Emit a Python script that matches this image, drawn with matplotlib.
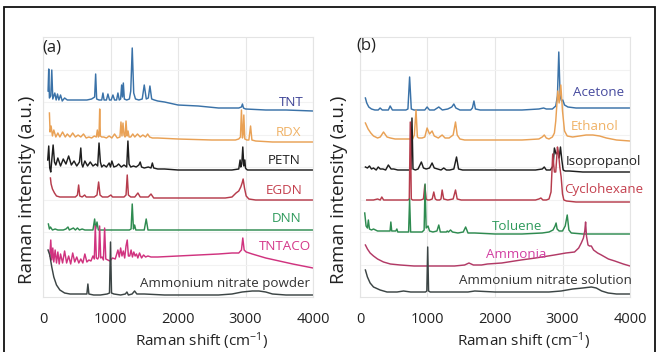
import matplotlib
matplotlib.use("Agg")
import matplotlib.pyplot as plt
from matplotlib.patches import Rectangle

plt.rcParams['font.family'] = ['Open Sans', 'DejaVu Sans']
plt.rcParams['mathtext.default'] = 'regular'

# ---- panel (a): explosives, intensities relative to each trace's baseline ----
tnt_x = [75, 85, 95, 115, 130, 145, 175, 195, 215, 235, 260, 285, 320, 360, 450, 550, 650, 720, 765, 780,
         795, 830, 870, 888, 905, 940, 962, 985, 1010, 1036, 1060, 1090, 1110, 1130, 1150, 1165, 1178, 1190,
         1205, 1240, 1280, 1300, 1322, 1344, 1370, 1420, 1470, 1500, 1530, 1560, 1584, 1610, 1650, 1700,
         1800, 2000, 2300, 2600, 2900, 2940, 2955, 2970, 3000, 3300, 3600, 4000]
tnt_y = [20, 42, 13, 15, 41, 12, 18, 11, 17, 11, 16, 10, 13, 11, 11, 11, 11, 12, 14, 37,
         12, 11, 11, 18, 11, 11, 17, 11, 11, 16, 11, 11, 18, 11, 12, 26, 14, 28,
         12, 11, 12, 20, 63, 18, 12, 11, 12, 26, 12, 13, 25, 12, 11, 10,
         9, 6, 5, 3, 3, 4, 7, 3, 2, 1, 1, 0]

rdx_x = [95, 105, 120, 140, 160, 190, 220, 250, 290, 330, 360, 400, 440, 480, 520, 560, 600, 640, 680, 720,
         760, 790, 805, 820, 830, 840, 850, 870, 900, 940, 980, 1020, 1060, 1100, 1140, 1155, 1170, 1185,
         1200, 1215, 1230, 1245, 1260, 1275, 1300, 1330, 1360, 1400, 1440, 1480, 1520, 1550, 1580, 1620,
         1700, 2000, 2500, 2850, 2900, 2925, 2940, 2955, 2965, 2975, 2990, 3020, 3050, 3075, 3095, 3150,
         3400, 4000]
rdx_y = [29, 10, 16, 6, 12, 5, 9, 5, 10, 5, 8, 5, 9, 5, 7, 5, 8, 4, 5, 4,
         6, 5, 12, 5, 6, 33, 6, 5, 5, 4, 6, 4, 8, 4, 5, 20, 6, 19,
         7, 5, 21, 6, 11, 5, 5, 8, 5, 8, 5, 7, 5, 8, 5, 4,
         4, 3, 2, 2, 3, 5, 32, 4, 8, 27, 3, 2, 2, 16, 2, 1,
         0, 0]

petn_x = [70, 85, 100, 115, 130, 150, 170, 190, 220, 260, 300, 340, 380, 420, 460, 500, 540, 560, 575, 590,
          620, 660, 700, 740, 780, 810, 830, 850, 870, 900, 940, 980, 1000, 1020, 1050, 1090, 1120, 1160,
          1200, 1240, 1258, 1275, 1300, 1340, 1380, 1420, 1440, 1460, 1500, 1560, 1600, 1620, 1640, 1700,
          1800, 2000, 2400, 2800, 2900, 2920, 2930, 2945, 2960, 2975, 2990, 3000, 3010, 3030, 3100, 3500, 4000]
petn_y = [10, 24, 2, -2, 10, 25, 8, 5, 12, 4, 11, 6, 14, 5, 9, 4, 8, 22, 6, 3,
          9, 4, 8, 4, 6, 4, 27, 8, 3, 5, 3, 7, 3, 9, 3, 4, 6, 3,
          5, 3, 29, 6, 3, 4, 3, 5, 8, 3, 2, 3, 2, 7, 2, 1,
          1, 0, 0, 0, 1, 10, 3, 6, 23, 4, 10, 2, 1, 0, 0, 0, 0]

egdn_x = [110, 120, 140, 170, 200, 250, 300, 400, 480, 510, 528, 545, 580, 617, 640, 700, 760, 800, 824, 845,
          880, 920, 960, 1006, 1030, 1100, 1160, 1200, 1230, 1248, 1265, 1300, 1360, 1406, 1440, 1500, 1560,
          1600, 1640, 1700, 2000, 2400, 2700, 2800, 2860, 2900, 2930, 2950, 2965, 2985, 3010, 3050, 3150,
          3500, 4000]
egdn_y = [22, 16, 11, 7, 4, 3, 3, 3, 3, 5, 15, 4, 3, 5, 3, 3, 3, 5, 18, 5,
          3, 3, 3, 5, 3, 3, 3, 3, 5, 25, 5, 3, 3, 7, 3, 3, 3,
          6, 2, 2, 2, 2, 2, 3, 7, 9, 13, 17, 21, 12, 4, 1, 0,
          0, 0]

dnn_x = [80, 95, 110, 140, 180, 220, 260, 300, 340, 370, 390, 420, 450, 480, 510, 540, 580, 620, 700, 740,
         765, 780, 800, 820, 860, 900, 1000, 1100, 1200, 1280, 1305, 1322, 1340, 1357, 1375, 1400, 1450,
         1500, 1529, 1555, 1600, 1800, 2500, 3000, 3500, 4000]
dnn_y = [6, 1, 3, 0, 1, 0, 0, 0, 1, 3, 0, 1, 2, 0, 2, 0, 1, 0, 0, 0,
         11, 1, 8, 0, 0, 0, 0, 0, 0, 0, 1, 26, 1, 5, 0, 0, 0,
         0, 11, 0, 0, 0, 0, 0, 0, 0]

tntaco_x = [100, 115, 130, 145, 160, 180, 200, 220, 240, 260, 290, 320, 350, 380, 410, 440, 470, 500, 530, 560,
            590, 620, 650, 680, 710, 740, 760, 775, 790, 810, 825, 839, 855, 875, 895, 913, 930, 960, 990,
            1030, 1070, 1110, 1130, 1150, 1170, 1190, 1210, 1230, 1248, 1265, 1285, 1305, 1325, 1345, 1365,
            1385, 1405, 1430, 1460, 1490, 1520, 1554, 1600, 1700, 2000, 2300, 2600, 2800, 2900, 2940, 2960,
            2980, 3010, 3100, 3300, 3500, 3700, 4000]
tntaco_y = [12, 28, 8, 20, 6, 18, 5, 16, 4, 14, 5, 17, 5, 12, 4, 15, 6, 11, 5, 9,
            5, 14, 6, 8, 7, 12, 9, 42, 10, 9, 11, 42, 10, 11, 8, 40, 9, 8, 7,
            10, 9, 18, 11, 20, 12, 17, 10, 22, 28, 12, 12, 18, 11, 16, 12,
            14, 10, 15, 10, 13, 11, 12, 11, 11, 12, 13, 14, 15, 15, 18, 30,
            18, 16, 14, 10, 7, 4, 0]

anp_x = [75, 100, 130, 160, 200, 250, 320, 400, 500, 600, 650, 665, 680, 750, 850, 950, 985, 1000, 1015, 1050,
         1150, 1220, 1243, 1265, 1320, 1357, 1390, 1500, 1800, 2200, 2600, 2800, 2950, 3100, 3200, 3300,
         3400, 3600, 4000]
anp_y = [45, 40, 28, 18, 10, 5, 2, 1, 1, 1, 1, 11, 1, 0, 0, 1, 2, 53, 2, 1,
         0, 1, 3, 0, 1, 4, 1, 1, 0, 0, 0, 1, 3, 4, 4, 3,
         1, 0, 0]

# ---- panel (b): solvents / liquids ----
ace_x = [80, 100, 130, 170, 220, 270, 298, 330, 380, 420, 447, 480, 530, 600, 680, 710, 735, 760, 800, 880,
         960, 994, 1030, 1100, 1167, 1220, 1300, 1360, 1390, 1420, 1480, 1560, 1640, 1665, 1688, 1710, 1780,
         2000, 2400, 2650, 2720, 2760, 2850, 2900, 2925, 2945, 2965, 2985, 3004, 3030, 3080, 3200, 3500, 4000]
ace_y = [10, 5, 1, -1, -2, -2, 0, -2, -2, -2, 2, -2, -2, -2, -2, -1, 31, -1, -2, -2,
         -2, 1, -2, -2, 1, -2, -1, 1, 4, 0, -2, -2, -2, 0, 7, -1, -2,
         -2, -2, -1, 0, -1, -1, 2, 12, 56, 12, 7, 8, 3, 1, 0, 0, 0]

eth_x = [80, 120, 160, 200, 260, 300, 348, 400, 450, 520, 600, 700, 780, 805, 830, 850, 870, 920, 960, 994,
         1030, 1068, 1100, 1160, 1217, 1260, 1320, 1380, 1415, 1440, 1480, 1550, 1700, 2000, 2400, 2650,
         2700, 2730, 2760, 2800, 2850, 2880, 2900, 2930, 2950, 2975, 3000, 3030, 3070, 3150, 3250, 3350,
         3450, 3550, 3650, 3800, 4000]
eth_y = [18, 12, 8, 5, 3, 4, 9, 4, 3, 2, 2, 2, 2, 6, 31, 4, 3, 3, 4, 13,
         7, 10, 5, 3, 6, 3, 3, 6, 19, 6, 2, 1, 1, 1, 1, 2,
         4, 6, 3, 2, 4, 8, 20, 50, 38, 56, 30, 10, 5, 4, 5, 6,
         6, 5, 3, 1, 0]

iso_x = [80, 110, 140, 170, 200, 240, 270, 300, 340, 380, 420, 460, 500, 560, 640, 700, 740, 755, 770, 785,
         820, 860, 909, 940, 980, 1030, 1068, 1100, 1150, 1200, 1241, 1280, 1330, 1390, 1430, 1460, 1520,
         1600, 1800, 2200, 2600, 2700, 2730, 2760, 2820, 2860, 2880, 2905, 2930, 2950, 2970, 2990, 3010,
         3040, 3100, 3300, 3600, 4000]
iso_y = [5, 4, 6, 3, 4, 2, 5, 3, 3, 2, 7, 3, 3, 2, 2, 2, 2, 3, 54, 3,
         2, 3, 10, 4, 3, 4, 9, 4, 3, 2, 4, 2, 2, 3, 15, 3, 2,
         2, 2, 2, 2, 3, 5, 2, 2, 6, 24, 18, 20, 14, 25, 12, 2,
         1, 1, 0, 0, 0]

cyc_x = [100, 150, 200, 260, 300, 323, 350, 400, 500, 600, 680, 710, 730, 745, 760, 780, 820, 900, 940, 960,
         980, 1000, 1030, 1070, 1093, 1115, 1140, 1180, 1200, 1217, 1240, 1300, 1380, 1415, 1440, 1500, 1600,
         2000, 2400, 2600, 2650, 2680, 2710, 2760, 2800, 2830, 2855, 2880, 2900, 2925, 2940, 2960, 2980,
         3000, 3020, 3060, 3200, 3600, 4000]
cyc_y = [2, 2, 2, 3, 2, 5, 2, 2, 2, 2, 2, 2, 3, 80, 3, 2, 2, 2, 3, 17,
         3, 2, 2, 3, 10, 3, 2, 2, 3, 12, 3, 2, 3, 12, 3, 2, 2,
         2, 2, 2, 3, 4, 2, 2, 3, 10, 48, 30, 30, 55, 50, 35, 25,
         8, 2, 1, 0, 0, 0]

tol_x = [70, 90, 110, 124, 140, 170, 200, 260, 320, 380, 420, 445, 457, 470, 500, 530, 546, 560, 600, 660,
         700, 720, 735, 750, 800, 860, 920, 950, 964, 980, 1008, 1030, 1080, 1140, 1167, 1190, 1240, 1280,
         1292, 1310, 1341, 1370, 1450, 1530, 1565, 1600, 1700, 2000, 2400, 2700, 2800, 2860, 2890, 2905,
         2920, 2950, 3000, 3040, 3070, 3095, 3130, 3300, 3600, 4000]
tol_y = [21, 8, 6, 14, 5, 4, 5, 3, 3, 3, 3, 3, 12, 3, 3, 3, 5, 2, 2, 2,
         2, 2, 35, 2, 2, 2, 2, 4, 50, 6, 8, 3, 2, 3, 9, 2, 2, 2,
         3, 2, 4, 2, 1, 2, 7, 1, 1, 0, 0, 1, 2, 4, 8, 11,
         5, 3, 3, 8, 19, 4, 1, 0, 0, 0]

amm_x = [80, 110, 150, 200, 260, 348, 450, 596, 800, 1000, 1200, 1400, 1550, 1614, 1680, 1800, 1888, 2100,
         2384, 2600, 2880, 3050, 3178, 3240, 3278, 3310, 3330, 3342, 3355, 3378, 3400, 3427, 3460, 3520,
         3576, 3680, 3774, 3900, 4000]
amm_y = [21, 17, 13, 10, 7, 4, 2, 1, 0, 0, 0, 0, 1, 3, 1, 1, 2, 3,
         6, 8, 11, 13, 14, 18, 23, 28, 35, 44, 30, 21, 20, 20, 16, 13,
         11, 7, 5, 2, 0]

ans_x = [80, 110, 150, 200, 298, 400, 550, 645, 750, 900, 970, 990, 1003, 1016, 1040, 1200, 1600, 1700,
         2000, 2400, 2800, 2980, 3150, 3300, 3427, 3500, 3580, 3676, 3800, 4000]
ans_y = [24, 17, 11, 7, 4, 2, 2, 3, 2, 2, 2, 3, 47, 3, 2, 2, 2, 3,
         2, 2, 2, 3, 5, 6, 7, 6, 3, 1, 0, 0]

# stacking offsets (top to bottom)
offsets_a = [186, 155, 127, 97, 67, 29, 2]
offsets_b = [189, 156, 125, 95, 63, 31, 3]

names_a = ["TNT", "RDX", "PETN", "EGDN", "DNN", "TNTACO", "Ammonium nitrate powder"]
names_b = ["Acetone", "Ethanol", "Isopropanol", "Cyclohexane", "Toluene", "Ammonia",
           "Ammonium nitrate solution"]

blue, orange, black, red, green, grey = "#3a72a8", "#e9a155", "#1e1e1e", "#b63c4c", "#2e8b50", "#3c4545"
line_a = [blue, orange, black, red, green, "#d0337f", grey]
line_b = [blue, orange, black, red, green, "#b23a66", grey]
text_a = ["#3f4496", "#f0b266", "#222222", "#c4404e", "#2f9a5c", "#d4388a", "#333333"]
text_b = ["#464a9e", "#f0b266", "#222222", "#c4404e", "#2f9a5c", "#d23fa2", "#333333"]

W, H = 659, 352
fig = plt.figure(figsize=(W / 100, H / 100), dpi=100)

def px_axes(x0, x1, y0, y1):
    return fig.add_axes([x0 / W, 1 - y1 / H, (x1 - x0) / W, (y1 - y0) / H])

ax_a = px_axes(43, 313, 37, 297)
ax_b = px_axes(360, 630, 37, 297)

spec_a = [(tnt_x, tnt_y), (rdx_x, rdx_y), (petn_x, petn_y), (egdn_x, egdn_y),
          (dnn_x, dnn_y), (tntaco_x, tntaco_y), (anp_x, anp_y)]
spec_b = [(ace_x, ace_y), (eth_x, eth_y), (iso_x, iso_y), (cyc_x, cyc_y),
          (tol_x, tol_y), (amm_x, amm_y), (ans_x, ans_y)]

for ax, specs, offs, cols in [(ax_a, spec_a, offsets_a, line_a), (ax_b, spec_b, offsets_b, line_b)]:
    for (x, y), off, c in zip(specs, offs, cols):
        ax.plot(x, [v + off for v in y], color=c, lw=1.05, solid_joinstyle='round')
    ax.set_xlim(0, 4000)
    ax.set_ylim(0, 260)
    ax.set_xticks([0, 1000, 2000, 3000, 4000])
    ax.set_yticks([32.5 * k for k in range(1, 8)])
    ax.tick_params(axis='x', length=0, pad=11, labelsize=10.5, labelcolor="#222222")
    ax.tick_params(axis='y', length=0, labelleft=False)
    ax.grid(True, axis='x', color="#e6e6e6", lw=0.8)
    ax.grid(True, axis='y', color="#f2f2f2", lw=0.8)
    ax.set_axisbelow(True)
    for s in ax.spines.values():
        s.set_color("#e4e4e4")
        s.set_linewidth(0.8)

# trace labels: (x in cm-1, y in axis units, alignment)
lab_a = [(3863, 194, 'right'), (3833, 165, 'right'), (3818, 136, 'right'), (3848, 106, 'right'),
         (3833, 79, 'right'), (3966, 50, 'right'), (3952, 13, 'right')]
lab_b = [(3907, 204, 'right'), (3833, 170, 'right'), (3049, 136, 'left'), (3019, 108, 'left'),
         (2324, 71, 'center'), (2309, 43, 'center'), (4026, 17, 'right')]

for ax, names, labs, cols in [(ax_a, names_a, lab_a, text_a), (ax_b, names_b, lab_b, text_b)]:
    for n, (lx, ly, ha), c in zip(names, labs, cols):
        ax.text(lx, ly, n, color=c, ha=ha, va='center', fontsize=9.6, clip_on=False)

fig.text(52 / W, 1 - 47 / H, "(a)", fontsize=12, ha='center', va='center', color="#222222")
fig.text(366 / W, 1 - 45 / H, "(b)", fontsize=12, ha='center', va='center', color="#222222")

for xp in (27, 339):
    fig.text(xp / W, 1 - 190 / H, "Raman intensity (a.u.)", rotation=90, fontsize=13.5,
             ha='center', va='center', color="#222222")
for xp in (202, 524):
    fig.text(xp / W, 1 - 341 / H, r"Raman shift (cm$^{-1}$)", fontsize=11,
             ha='center', va='center', color="#222222")

# outer frame
fig.add_artist(Rectangle((4 / W, -0.02), 651 / W, 1.02 - 7 / H, transform=fig.transFigure,
                         fill=False, lw=1.3, edgecolor="#111111"))

fig.savefig("out.png", dpi=100)
